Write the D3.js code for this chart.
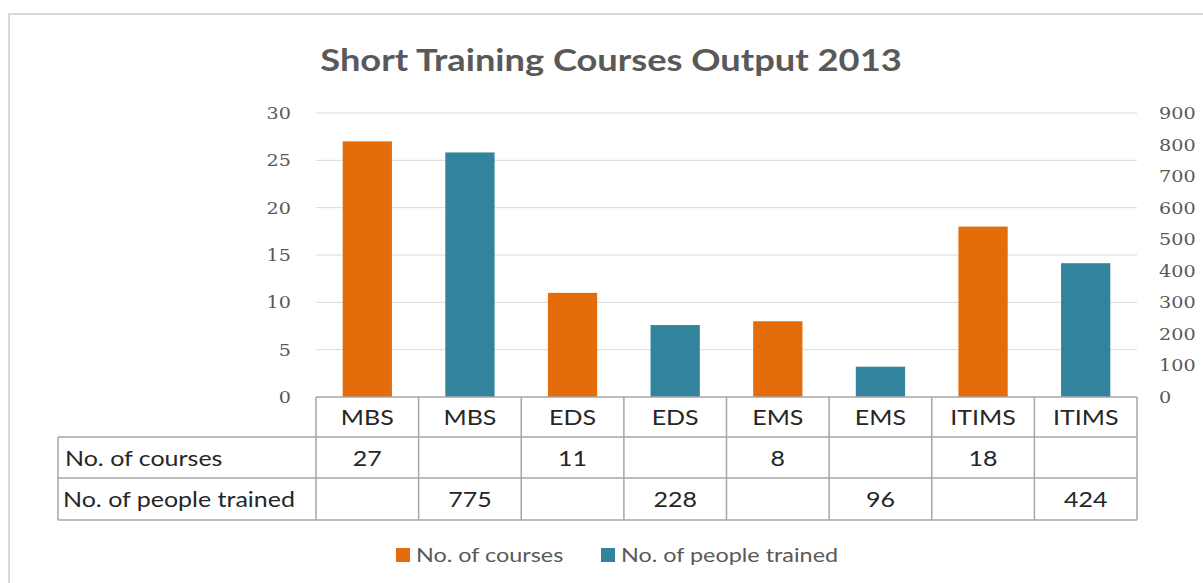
<!DOCTYPE html>
<html>
<head>
<meta charset="utf-8">
<script src="https://cdn.jsdelivr.net/npm/d3@7"></script>
<style>
  body { margin: 0; background: #fff; }
</style>
</head>
<body>
<div id="chart"></div>
<script>
const title = "Short Training Courses Output 2013";
const categories = ["MBS", "MBS", "EDS", "EDS", "EMS", "EMS", "ITIMS", "ITIMS"];
const courses = [27, null, 11, null, 8, null, 18, null];
const people = [null, 775, null, 228, null, 96, null, 424];
const seriesNames = ["No. of courses", "No. of people trained"];
const leftTicks = [0, 5, 10, 15, 20, 25, 30];
const rightTicks = [0, 100, 200, 300, 400, 500, 600, 700, 800, 900];

const W = 1203, H = 583;
const orange = "#e46c0a", teal = "#31849b";
const gridColor = "#d9d9d9", tableColor = "#a6a6a6";
const textColor = "#595959", tableText = "#262626";
const sansFont = "Lato, 'Open Sans', sans-serif";
const tickFont = "'DejaVu Serif', serif";

const svg = d3.select("#chart").append("svg")
    .attr("width", W)
    .attr("height", H);

svg.append("rect")
    .attr("width", W).attr("height", H)
    .attr("fill", "#fff");

// the source picture is stretched sideways, so text gets a horizontal scale
function addText(x, y, txt, o) {
    return svg.append("text")
        .attr("transform", `translate(${x},${y}) scale(${o.sx || 1},1)`)
        .attr("text-anchor", o.anchor || "start")
        .attr("font-size", o.size)
        .attr("font-weight", o.weight || "normal")
        .style("font-family", o.family || sansFont)
        .attr("fill", o.fill)
        .text(txt);
}

// chart frame
svg.append("rect")
    .attr("x", 9).attr("y", 14)
    .attr("width", 1400).attr("height", 800)
    .attr("fill", "none")
    .attr("stroke", "#d9d9d9")
    .attr("stroke-width", 2);

const plotLeft = 316, plotRight = 1137, plotTop = 113, plotBottom = 397;

const x = d3.scaleBand()
    .domain(d3.range(categories.length))
    .range([plotLeft, plotRight])
    .padding(0);

const yL = d3.scaleLinear().domain([0, 30]).range([plotBottom, plotTop]);
const yR = d3.scaleLinear().domain([0, 900]).range([plotBottom, plotTop]);

addText(611, 71, title, { anchor: "middle", size: 31, weight: "bold", fill: textColor, sx: 1.17 });

// gridlines
svg.selectAll(".grid")
    .data(leftTicks.filter(d => d > 0))
    .enter().append("line")
    .attr("x1", plotLeft).attr("x2", plotRight)
    .attr("y1", d => yL(d)).attr("y2", d => yL(d))
    .attr("stroke", gridColor)
    .attr("stroke-width", 1);

leftTicks.forEach(d => addText(291, yL(d) + 6, d, {
    anchor: "end", size: 16, family: tickFont, fill: textColor, sx: 1.2
}));
rightTicks.forEach(d => addText(1159, yR(d) + 6, d, {
    anchor: "start", size: 16, family: tickFont, fill: textColor, sx: 1.2
}));

const barW = x.bandwidth() * 0.48;

svg.selectAll(".bar-c")
    .data(courses.map((v, i) => ({ v, i })).filter(d => d.v != null))
    .enter().append("rect")
    .attr("x", d => x(d.i) + (x.bandwidth() - barW) / 2)
    .attr("width", barW)
    .attr("y", d => yL(d.v))
    .attr("height", d => yL(0) - yL(d.v))
    .attr("fill", orange);

svg.selectAll(".bar-p")
    .data(people.map((v, i) => ({ v, i })).filter(d => d.v != null))
    .enter().append("rect")
    .attr("x", d => x(d.i) + (x.bandwidth() - barW) / 2)
    .attr("width", barW)
    .attr("y", d => yR(d.v))
    .attr("height", d => yR(0) - yR(d.v))
    .attr("fill", teal);

// data table
const tableLeft = 58;
const rowY = [plotBottom, 437, 478, 520];
const table = svg.append("g")
    .attr("stroke", tableColor)
    .attr("stroke-width", 1.5)
    .attr("fill", "none");

table.append("line")
    .attr("x1", plotLeft).attr("x2", plotRight)
    .attr("y1", rowY[0]).attr("y2", rowY[0]);
[rowY[1], rowY[2], rowY[3]].forEach(yy => {
    table.append("line")
        .attr("x1", tableLeft).attr("x2", plotRight)
        .attr("y1", yy).attr("y2", yy);
});
table.append("line")
    .attr("x1", tableLeft).attr("x2", tableLeft)
    .attr("y1", rowY[1]).attr("y2", rowY[3]);
d3.range(categories.length + 1).forEach(i => {
    const xx = i < categories.length ? x(i) : plotRight;
    table.append("line")
        .attr("x1", xx).attr("x2", xx)
        .attr("y1", rowY[0]).attr("y2", rowY[3]);
});

const cellText = (xx, row, txt, anchor) =>
    addText(xx, (rowY[row] + rowY[row + 1]) / 2 + 8, txt, {
        anchor: anchor || "middle", size: 21, fill: tableText, sx: 1.19
    });

categories.forEach((c, i) => cellText(x(i) + x.bandwidth() / 2, 0, c));
courses.forEach((v, i) => { if (v != null) cellText(x(i) + x.bandwidth() / 2, 1, v); });
people.forEach((v, i) => { if (v != null) cellText(x(i) + x.bandwidth() / 2, 2, v); });
cellText(65, 1, seriesNames[0], "start");
cellText(63, 2, seriesNames[1], "start");

// legend
const legend = [
    { name: seriesNames[0], color: orange, x: 396 },
    { name: seriesNames[1], color: teal, x: 601 }
];
legend.forEach(l => {
    svg.append("rect")
        .attr("x", l.x).attr("y", 548)
        .attr("width", 14).attr("height", 14)
        .attr("fill", l.color);
    addText(l.x + 20, 562, l.name, { size: 20, fill: textColor, sx: 1.17 });
});
</script>
</body>
</html>
